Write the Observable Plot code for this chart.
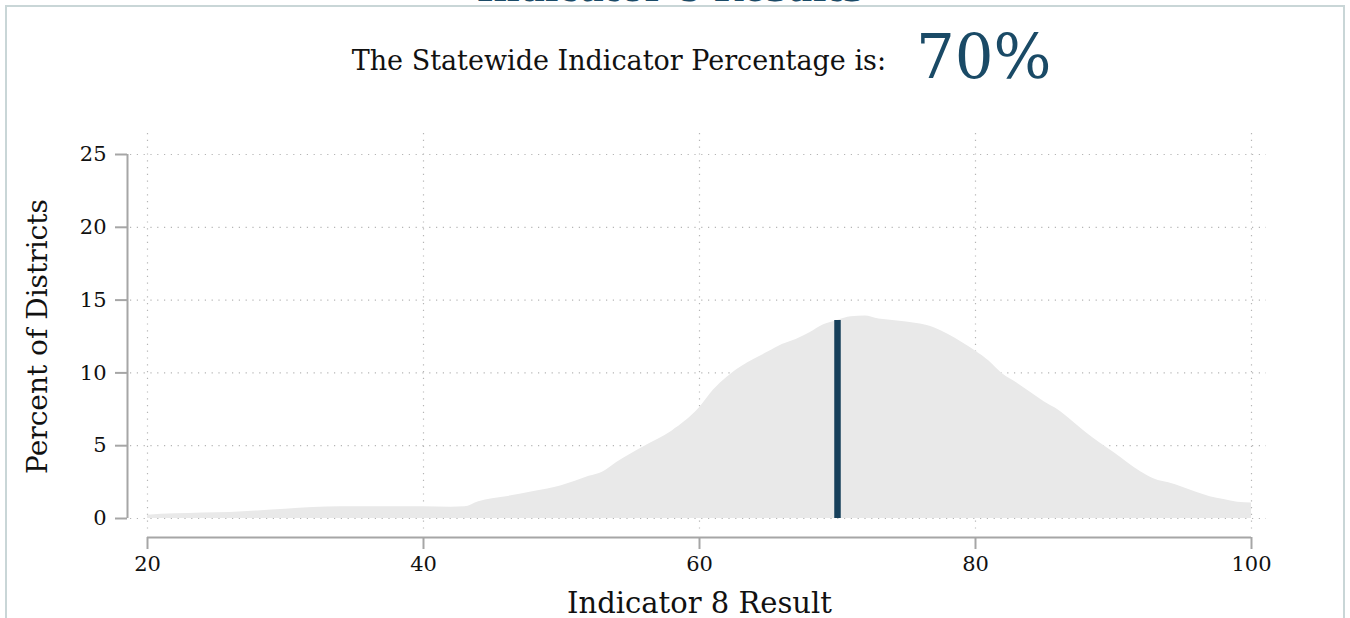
<!DOCTYPE html>
<html>
<head>
<meta charset="utf-8">
<script src="https://cdn.jsdelivr.net/npm/d3@7"></script>
<script src="https://cdn.jsdelivr.net/npm/@observablehq/plot@0.6"></script>
<style>
  html, body { margin:0; padding:0; background:#fff; }
  body { width:1350px; height:618px; position:relative; overflow:hidden; font-family:"DejaVu Serif", Georgia, serif; }
  #border { position:absolute; left:5px; top:5px; width:1340px; height:640px; border:2px solid #c9d6d7; box-sizing:border-box; }
  #title { position:absolute; left:0; width:1340px; top:-30px; text-align:center; font-size:36px; line-height:36px; font-weight:bold; color:#1a4a66; }
  #lbl { position:absolute; right:464px; top:47px; font-size:27px; line-height:27px; color:#111; white-space:nowrap; }
  #val { position:absolute; left:916px; top:26px; font-size:61px; line-height:61px; color:#1a4a66; white-space:nowrap; }
  #chart { position:absolute; left:0; top:100px; }
</style>
</head>
<body>
<div id="border"></div>
<div id="title">Indicator 8 Results</div>
<div id="lbl">The Statewide Indicator Percentage is:</div>
<div id="val"></div>
<div id="chart"></div>
<script>
const resultX = [20,22,24,26,28,30,32,34,36,38,40,42,43,44,46,48,50,52,53,54,56,58,60,61,62,63,64,65,66,67,68,69,70,71,72,73,74,75,76,77,78,79,80,81,82,83,84,85,86,87,88,89,90,91,92,93,94,95,96,97,98,99,100];
const percentDistricts = [0.23,0.32,0.38,0.42,0.52,0.63,0.75,0.80,0.80,0.80,0.80,0.78,0.80,1.15,1.50,1.85,2.25,2.90,3.2,3.85,4.95,6.0,7.6,8.8,9.7,10.4,10.95,11.45,11.95,12.3,12.75,13.3,13.6,13.85,13.9,13.7,13.6,13.5,13.35,13.1,12.65,12.1,11.5,10.8,9.9,9.3,8.65,8.0,7.45,6.7,5.9,5.2,4.55,3.85,3.2,2.7,2.45,2.15,1.8,1.5,1.3,1.12,1.06];
const statewidePct = 70;
const statewideHeight = 13.6;
const xTicks = [20,40,60,80,100];
const yTicks = [0,5,10,15,20,25];
const xLabel = "Indicator 8 Result";
const yLabel = "Percent of Districts";

document.getElementById("val").textContent = statewidePct + "%";

const data = resultX.map((x,i) => ({x, y: percentDistricts[i]}));
const font = "DejaVu Serif";
const axisColor = "#a6a6a6";
const gridStyle = {stroke:"#b5b5b5", strokeWidth:1.2, strokeDasharray:"1.2,5.6"};

const chart = Plot.plot({
  width:1350, height:518,
  marginLeft:147, marginRight:99, marginTop:54, marginBottom:100,
  style:{fontFamily:font, fontSize:"21px", color:"#111", background:"transparent", overflow:"visible"},
  x:{domain:[20,100]},
  y:{domain:[0,25]},
  marks:[
    Plot.ruleY(yTicks, {...gridStyle, insetLeft:-17, insetRight:-15}),
    Plot.ruleX(xTicks, {...gridStyle, insetTop:-21, insetBottom:-12}),
    Plot.areaY(data, {x:"x", y:"y", fill:"#e9e9e9", curve:"monotone-x"}),
    Plot.ruleX([statewidePct], {y1:0, y2:statewideHeight, stroke:"#163f5a", strokeWidth:6.5}),
    // y axis
    Plot.ruleX([20], {y1:0, y2:25, dx:-20, stroke:axisColor, strokeWidth:2}),
    Plot.axisY({ticks:yTicks, tickSize:12, tickPadding:9, dx:-20, stroke:axisColor, strokeWidth:2, label:null, fontSize:21, tickFormat:d=>String(d)}),
    // x axis
    Plot.ruleY([0], {x1:20, x2:100, dy:19, stroke:axisColor, strokeWidth:2}),
    Plot.axisX({ticks:xTicks, tickSize:12, tickPadding:7, dy:19, stroke:axisColor, strokeWidth:2, label:null, fontSize:21, tickFormat:d=>String(d)}),
    Plot.text([xLabel], {frameAnchor:"bottom", lineAnchor:"middle", dy:85, fontSize:29, fill:"#111"}),
    Plot.text([yLabel], {frameAnchor:"left", textAnchor:"middle", lineAnchor:"middle", rotate:-90, dx:-109, fontSize:28, fill:"#111"})
  ]
});
document.getElementById("chart").appendChild(chart);
</script>
</body>
</html>
